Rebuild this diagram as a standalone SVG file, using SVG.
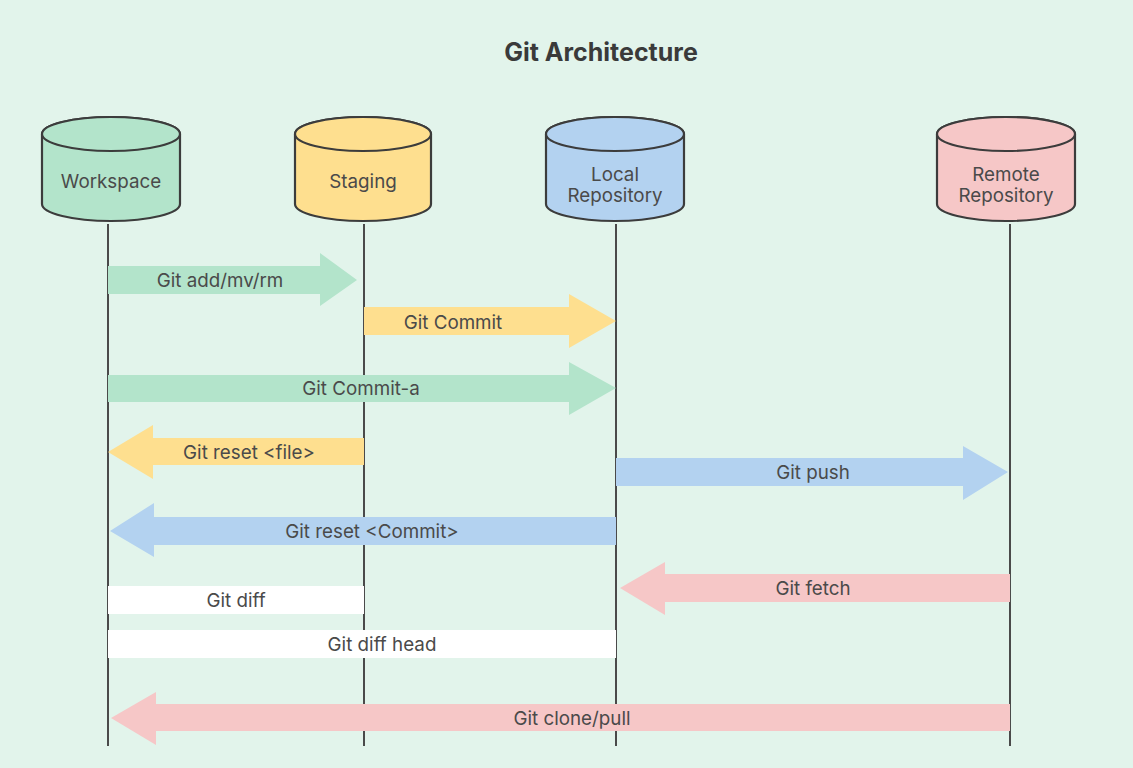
<svg xmlns="http://www.w3.org/2000/svg" width="1133" height="768" viewBox="0 0 1133 768">
<style>
.t{font-family:Inter,"Noto Sans","Liberation Sans",sans-serif;font-size:18.8px;fill:#4a4a4a;text-anchor:middle;dominant-baseline:central}
.title{font-family:Inter,"Noto Sans","Liberation Sans",sans-serif;font-size:25px;font-weight:700;fill:#3a3a3a;text-anchor:middle;dominant-baseline:central}
.cyl{stroke:#3c3c3c;stroke-width:2.2}
.life{stroke:#4a4a4a;stroke-width:2}
.green{fill:#b3e4cb}
.yellow{fill:#fedf8f}
.blue{fill:#b3d2f0}
.pink{fill:#f6c7c7}
.white{fill:#ffffff}
</style>
<rect width="1133" height="768" fill="#e2f4eb"/>
<text class="title" x="601" y="52">Git Architecture</text>

<g id="lifelines">
<line class="life" x1="108" y1="224" x2="108" y2="746"/>
<line class="life" x1="364" y1="224" x2="364" y2="746"/>
<line class="life" x1="616" y1="224" x2="616" y2="746"/>
<line class="life" x1="1010" y1="224" x2="1010" y2="746"/>
</g>

<g id="workspace">
<path class="cyl green" d="M42,134 V204 A69,17 0 0 0 180,204 V134 A69,17 0 0 0 42,134 Z"/>
<ellipse class="cyl green" cx="111" cy="134" rx="69" ry="17"/>
<text class="t" x="111" y="181">Workspace</text>
</g>
<g id="staging">
<path class="cyl yellow" d="M295,134 V204 A68,17 0 0 0 431,204 V134 A68,17 0 0 0 295,134 Z"/>
<ellipse class="cyl yellow" cx="363" cy="134" rx="68" ry="17"/>
<text class="t" x="363" y="181">Staging</text>
</g>
<g id="local">
<path class="cyl blue" d="M546,134 V204 A69,17 0 0 0 684,204 V134 A69,17 0 0 0 546,134 Z"/>
<ellipse class="cyl blue" cx="615" cy="134" rx="69" ry="17"/>
<text class="t" x="615" y="174">Local</text>
<text class="t" x="615" y="195">Repository</text>
</g>
<g id="remote">
<path class="cyl pink" d="M937,134 V204 A69,17 0 0 0 1075,204 V134 A69,17 0 0 0 937,134 Z"/>
<ellipse class="cyl pink" cx="1006" cy="134" rx="69" ry="17"/>
<text class="t" x="1006" y="174">Remote</text>
<text class="t" x="1006" y="195">Repository</text>
</g>

<g id="connectors">
<polygon class="green" points="108,266 320,266 320,253 357,280 320,306 320,294 108,294"/>
<text class="t" x="220" y="280">Git add/mv/rm</text>

<polygon class="yellow" points="364,307 569,307 569,294 616,321 569,348 569,335 364,335"/>
<text class="t" x="453" y="322">Git Commit</text>

<polygon class="green" points="108,375 569,375 569,362 616,388 569,415 569,402 108,402"/>
<text class="t" x="361" y="388">Git Commit-a</text>

<polygon class="yellow" points="364,438 153,438 153,425 108,452 153,479 153,465 364,465"/>
<text class="t" x="249" y="452">Git reset &lt;file&gt;</text>

<polygon class="blue" points="616,458 963,458 963,446 1008,472 963,500 963,486 616,486"/>
<text class="t" x="813" y="472">Git push</text>

<polygon class="blue" points="616,517 154,517 154,503 110,531 154,557 154,545 616,545"/>
<text class="t" x="372" y="531">Git reset &lt;Commit&gt;</text>

<polygon class="pink" points="1010,574 665,574 665,562 620,588 665,615 665,602 1010,602"/>
<text class="t" x="813" y="588">Git fetch</text>

<rect class="white" x="108" y="586" width="256" height="28"/>
<text class="t" x="236" y="600">Git diff</text>

<rect class="white" x="108" y="630" width="508" height="28"/>
<text class="t" x="382" y="644">Git diff head</text>

<polygon class="pink" points="1010,704 156,704 156,692 111,718 156,745 156,731 1010,731"/>
<text class="t" x="572" y="718">Git clone/pull</text>
</g>
</svg>
